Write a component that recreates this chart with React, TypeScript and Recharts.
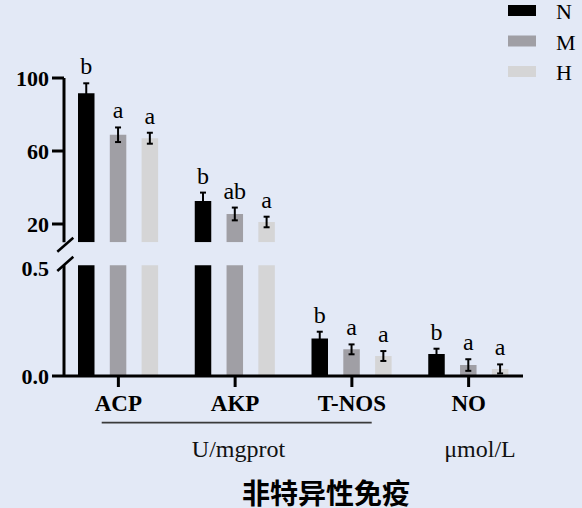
import { BarChart, Bar, XAxis, YAxis, ErrorBar, LabelList } from 'recharts';

document.body.style.margin = '0';

const SERIF = '"Liberation Serif", "Times New Roman", serif';
const CJK = '"Noto Sans CJK SC", sans-serif';

/* ── data ─────────────────────────────────────────── */

const categories = ['ACP', 'AKP', 'T-NOS', 'NO'];

const nMean = [91.6, 32.6, 0.175, 0.102];
const nSd = [5.5, 4.6, 0.031, 0.025];
const mMean = [68.9, 25.5, 0.124, 0.051];
const mSd = [4.0, 3.5, 0.023, 0.027];
const hMean = [67.0, 21.1, 0.093, 0.033];
const hSd = [3.0, 2.9, 0.023, 0.021];

const nSig = ['b', 'b', 'b', 'b'];
const mSig = ['a', 'ab', 'a', 'a'];
const hSig = ['a', 'a', 'a', 'a'];

const upperTicks = [20, 60, 100];
const lowerTicks = [0, 0.5];

// 끊긴 축: 위 구간 10–100, 아래 구간 0–0.515
const UPPER_DOMAIN: [number, number] = [10, 100];
const LOWER_DOMAIN: [number, number] = [0, 0.515];

const SERIES = [
  { key: 'N', mean: nMean, sd: nSd, sig: nSig, color: '#000000' },
  { key: 'M', mean: mMean, sd: mSd, sig: mSig, color: '#a09fa5' },
  { key: 'H', mean: hMean, sd: hSd, sig: hSig, color: '#d5d5d6' },
];

type Row = Record<string, string | number | null>;

function buildRows(section: 'upper' | 'lower'): Row[] {
  return categories.map((name, i) => {
    const row: Row = { name };
    for (const s of SERIES) {
      const v = s.mean[i];
      const inUpper = v >= UPPER_DOMAIN[0];
      const own = section === 'upper' ? inUpper : !inUpper;
      // 아래 구간은 큰 값도 그대로 두고 클립으로 잘라낸다
      row[s.key] = section === 'upper' ? (inUpper ? v : null) : v;
      row[`${s.key}Sd`] = own ? s.sd[i] : null;
      row[`${s.key}Sig`] = own ? s.sig[i] : null;
    }
    return row;
  });
}

const upperRows = buildRows('upper');
const lowerRows = buildRows('lower');

/* ── renderers ────────────────────────────────────── */

// 유의성 문자: 막대 높이로 px/단위를 구해서 오차막대 끝 위에 둔다
// eslint-disable-next-line @typescript-eslint/no-explicit-any
const sigLabel = (rows: Row[], key: string, base: number) => (props: any) => {
  const { value, index } = props;
  if (value == null) return null;
  const vb = props.viewBox ?? props;
  const { x, y, width, height } = vb;
  const row = rows[index];
  const mean = row[key] as number;
  const sd = (row[`${key}Sd`] as number) ?? 0;
  const k = height / (mean - base);
  const top = y - sd * k;
  return (
    <text x={x + width / 2} y={top - 9} textAnchor="middle" fontFamily={SERIF} fontSize={24} fill="#000">
      {value}
    </text>
  );
};

// eslint-disable-next-line @typescript-eslint/no-explicit-any
const lowerTick = (props: any) => {
  const { x, y, payload } = props;
  return (
    <g>
      {payload.value === 0 && (
        <line x1={x + 3} x2={x + 15} y1={y} y2={y} stroke="#000" strokeWidth={3} />
      )}
      <text x={x} y={y} dy="0.36em" textAnchor="end" fontFamily={SERIF} fontSize={22} fontWeight={700} fill="#000">
        {Number(payload.value).toFixed(1)}
      </text>
    </g>
  );
};

const axisStroke = { stroke: '#000', strokeWidth: 3 };
const xPadding = { left: -4, right: -4 };

function renderBars(rows: Row[], base: number) {
  return SERIES.map((s) => (
    <Bar key={s.key} dataKey={s.key} fill={s.color} isAnimationActive={false}>
      <ErrorBar dataKey={`${s.key}Sd`} width={3} stroke="#000" strokeWidth={2} direction="y" />
      <LabelList dataKey={`${s.key}Sig`} content={sigLabel(rows, s.key, base)} />
    </Bar>
  ));
}

/* ── component ────────────────────────────────────── */

export default function App() {
  return (
    <div style={{ position: 'relative', width: 582, height: 508, background: '#e3e9f6', overflow: 'hidden' }}>
      {/* 아래 구간 + x축 */}
      <div style={{ position: 'absolute', left: 0, top: 0 }}>
        <BarChart
          width={582}
          height={508}
          data={lowerRows}
          barSize={16.5}
          barGap={15.3}
          margin={{ top: 265.3, right: 59, bottom: 92, left: 0 }}
        >
          <XAxis
            dataKey="name"
            height={40}
            padding={xPadding}
            tickSize={11}
            tickMargin={8}
            axisLine={axisStroke}
            tickLine={axisStroke}
            tick={{ fill: '#000', fontSize: 23, fontWeight: 700, fontFamily: SERIF }}
            interval={0}
          />
          <YAxis
            type="number"
            domain={LOWER_DOMAIN}
            ticks={lowerTicks}
            allowDataOverflow
            width={64}
            tickSize={12}
            tickMargin={3}
            axisLine={axisStroke}
            tickLine={false}
            tick={lowerTick}
            interval={0}
          />
          {renderBars(lowerRows, LOWER_DOMAIN[0])}
        </BarChart>
      </div>

      {/* 위 구간 */}
      <div style={{ position: 'absolute', left: 0, top: 0 }}>
        <BarChart
          width={582}
          height={250}
          data={upperRows}
          barSize={16.5}
          barGap={15.3}
          margin={{ top: 78, right: 59, bottom: 7.75, left: 0 }}
        >
          <XAxis dataKey="name" hide padding={xPadding} />
          <YAxis
            type="number"
            domain={UPPER_DOMAIN}
            ticks={upperTicks}
            allowDataOverflow
            width={64}
            tickSize={12}
            tickMargin={3}
            axisLine={axisStroke}
            tickLine={axisStroke}
            tick={{ fill: '#000', fontSize: 22, fontWeight: 700, fontFamily: SERIF }}
            interval={0}
          />
          {renderBars(upperRows, UPPER_DOMAIN[0])}
        </BarChart>
      </div>

      {/* 축 끊김 표시, 범례, 단위, 제목 */}
      <svg width={582} height={508} style={{ position: 'absolute', left: 0, top: 0, pointerEvents: 'none' }}>
        <line x1={57.3} y1={251.7} x2={73.3} y2={237.7} stroke="#000" strokeWidth={2.5} />
        <line x1={57.3} y1={271} x2={73.3} y2={256.7} stroke="#000" strokeWidth={2.5} />

        {SERIES.map((s, i) => (
          <g key={s.key}>
            <rect x={508} y={5 + i * 30.5} width={28} height={11} fill={s.color} />
            <text x={556} y={19 + i * 30.5} fontFamily={SERIF} fontSize={22} fill="#000">
              {s.key}
            </text>
          </g>
        ))}

        <line x1={101.7} y1={422.7} x2={371.7} y2={422.7} stroke="#3a3a3a" strokeWidth={1.7} />
        <text x={238.5} y={457} textAnchor="middle" fontFamily={SERIF} fontSize={24} fill="#111">
          U/mgprot
        </text>
        <text x={480} y={457} textAnchor="middle" fontFamily={SERIF} fontSize={24} fill="#111">
          μmol/L
        </text>
        <text x={326} y={503.5} textAnchor="middle" fontFamily={CJK} fontSize={28} fontWeight={700} fill="#000">
          非特异性免疫
        </text>
      </svg>
    </div>
  );
}
